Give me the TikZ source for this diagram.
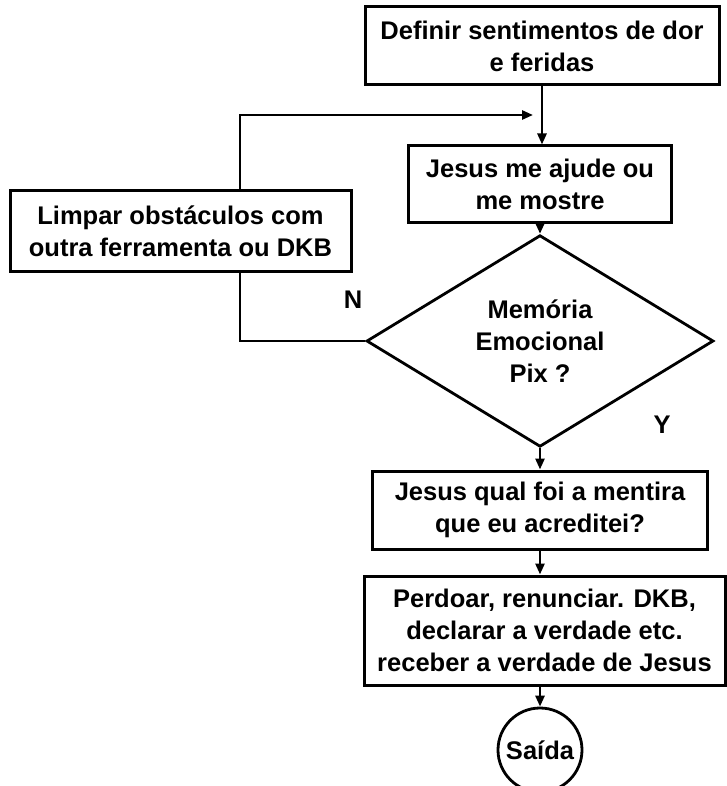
\documentclass[tikz,border=0pt]{standalone}
\usepackage{fontspec}
\setmainfont{Liberation Sans}
\usetikzlibrary{shapes.geometric,arrows.meta}
\tikzstyle{node_box} = [rectangle, draw, line width=3pt, fill=white, align=center, inner sep=0pt, font=\fontsize{25.5}{32}\selectfont\bfseries]
\tikzstyle{node_decision} = [diamond, draw, line width=2.8pt, fill=white, align=center, inner sep=0pt, font=\fontsize{25.5}{32}\selectfont\bfseries]
\tikzstyle{node_exit} = [circle, draw, line width=2.8pt, fill=white, inner sep=0pt, minimum size=84pt, font=\fontsize{25.5}{32}\selectfont\bfseries]
\tikzstyle{node_label} = [inner sep=0pt, font=\fontsize{25.5}{32}\selectfont\bfseries]
\tikzstyle{edge_normal} = [line width=2.6pt]
\tikzstyle{edge_flow} = [line width=2.6pt, -{Triangle[length=11pt,width=9pt]}]

\begin{document}
\begin{tikzpicture}[x=1pt,y=-1pt]
\useasboundingbox (0,0) rectangle (727,786);
\def\spine{540}
\node (define) at (542,46) [node_box, minimum width=354pt, minimum height=78pt] {Definir sentimentos de dor\\e feridas};
\node (help) at (\spine,184.5) [node_box, minimum width=263pt, minimum height=77pt] {Jesus me ajude ou\\me mostre};
\node (clean) at (180.5,231) [node_box, minimum width=341pt, minimum height=80pt] {Limpar obstáculos com\\outra ferramenta ou DKB};
\node (decide) at (\spine,341) [node_decision, minimum width=347pt, minimum height=200pt] {Memória\\Emocional\\Pix ?};
\node (lie) at (\spine,510) [node_box, minimum width=335pt, minimum height=78pt] {Jesus qual foi a mentira\\que eu acreditei?};
\node (forgive) at (544.5,630.5) [node_box, minimum width=361pt, minimum height=109pt] {Perdoar, renunciar. DKB,\\declarar a verdade etc.\\receber a verdade de Jesus};
\node (exit) at (\spine,750) [node_exit] {Saída};
\node (lbl_n) at (353,300) [node_label] {N};
\node (lbl_y) at (662,425) [node_label] {Y};

\coordinate (loop_x) at (240,115);
\coordinate (loop_end) at (533,115);

\draw[edge_flow] (define.south) -- (define.south |- help.north);
\draw[edge_flow] (help.south) -- (decide.north);
\draw[edge_flow] (decide.south) -- (lie.north);
\draw[edge_flow] (lie.south) -- (lie.south |- forgive.north);
\draw[edge_flow] (exit.north |- forgive.south) -- (exit.north);
\draw[edge_normal] (decide.west) -| (loop_x |- clean.south);
\draw[edge_flow] (loop_x |- clean.north) -- (loop_x) -- (loop_end);
\end{tikzpicture}
\end{document}
